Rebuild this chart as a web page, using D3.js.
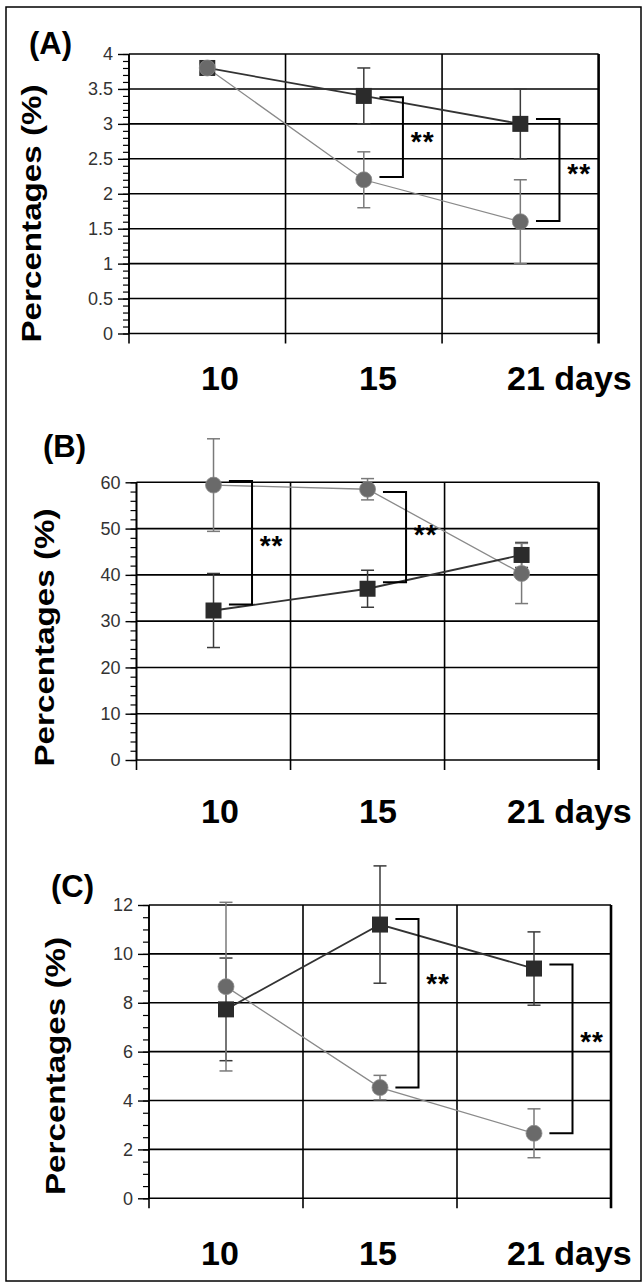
<!DOCTYPE html>
<html><head><meta charset="utf-8">
<script src="https://cdn.jsdelivr.net/npm/d3@7"></script>
<style>html,body{margin:0;padding:0;background:#fff}svg{display:block}</style>
</head><body>
<script>
// ---------- data ----------
const categories = ["10", "15", "21"];
const xLabels = ["10", "15", "21 days"];
const panelNames = ["(A)", "(B)", "(C)"];
const yTitle = "Percentages (%)";

const aTicks = [0, 0.5, 1, 1.5, 2, 2.5, 3, 3.5, 4];
const bTicks = [0, 10, 20, 30, 40, 50, 60];
const cTicks = [0, 2, 4, 6, 8, 10, 12];

const aSquare = [3.8, 3.4, 3.0];
const aSquareErr = [0, 0.4, 0.5];
const aCircle = [3.8, 2.2, 1.6];
const aCircleErr = [0, 0.4, 0.6];

const bSquare = [32.3, 37.0, 44.3];
const bSquareErr = [8.0, 4.0, 2.7];
const bCircle = [59.4, 58.5, 40.3];
const bCircleErr = [10.0, 2.3, 6.5];

const cSquare = [7.73, 11.2, 9.4];
const cSquareErr = [2.1, 2.4, 1.5];
const cCircle = [8.66, 4.53, 2.66];
const cCircleErr = [3.45, 0.5, 1.0];

// significance brackets: category, low end, high end, star level
const aBrackets = [{cat: "15", lo: 2.24, hi: 3.38, star: 2.84}, {cat: "21", lo: 1.61, hi: 3.07, star: 2.37}];
const bBrackets = [{cat: "10", lo: 33.6, hi: 60.3, star: 47.7}, {cat: "15", lo: 38.4, hi: 57.9, star: 50.1}];
const cBrackets = [{cat: "15", lo: 4.53, hi: 11.43, star: 9.05}, {cat: "21", lo: 2.66, hi: 9.57, star: 6.68}];

// ---------- layout ----------
const W = 643, H = 1283;
const FONT = "'Liberation Sans', Arial, Helvetica, sans-serif";
const svg = d3.select("body").append("svg").attr("width", W).attr("height", H);

svg.append("rect").attr("x", 6).attr("y", 7).attr("width", 635).attr("height", 1274)
  .attr("fill", "none").attr("stroke", "#000").attr("stroke-width", 1.5);

const panels = [
  {name: panelNames[0], ticks: aTicks, minor: 0.1, sq: aSquare, sqE: aSquareErr, ci: aCircle, ciE: aCircleErr, br: aBrackets,
   left: 129, right: 598.6, top: 54, bottom: 333.5, labelX: 29, labelY: 53.5, titleX: 41, titleCY: 213.5, xLabelY: 390},
  {name: panelNames[1], ticks: bTicks, minor: 2, sq: bSquare, sqE: bSquareErr, ci: bCircle, ciE: bCircleErr, br: bBrackets,
   left: 136.5, right: 598.6, top: 482.3, bottom: 760, labelX: 43, labelY: 456.5, titleX: 54, titleCY: 637.5, xLabelY: 823},
  {name: panelNames[2], ticks: cTicks, minor: 0.5, sq: cSquare, sqE: cSquareErr, ci: cCircle, ciE: cCircleErr, br: cBrackets,
   left: 149, right: 611, top: 905, bottom: 1198.3, labelX: 51, labelY: 896.5, titleX: 65, titleCY: 1066, xLabelY: 1265}
];

const labelX = d3.scalePoint().domain(categories).range([220, 536]);

panels.forEach(p => {
  const g = svg.append("g");
  const yMax = d3.max(p.ticks);
  const x = d3.scaleBand().domain(categories).range([p.left, p.right]).paddingInner(0).paddingOuter(0);
  const y = d3.scaleLinear().domain([0, yMax]).range([p.bottom, p.top]);
  const cx = c => x(c) + x.bandwidth() / 2;
  const bw = x.bandwidth();

  // horizontal grid
  g.append("g").selectAll("line").data(p.ticks).join("line")
    .attr("x1", p.left).attr("x2", p.right).attr("y1", d => y(d)).attr("y2", d => y(d))
    .attr("stroke", "#000").attr("stroke-width", 1.6);

  // vertical grid + x ticks at band boundaries
  const bounds = categories.map(c => x(c)).concat([x.range()[1]]);
  g.append("g").selectAll("line").data(bounds).join("line")
    .attr("x1", d => d).attr("x2", d => d).attr("y1", p.top).attr("y2", p.bottom + 10)
    .attr("stroke", "#000").attr("stroke-width", (d, i) => i === bounds.length - 1 ? 2.6 : 1.6);

  // y axis: minor ticks
  const minorAxis = d3.axisLeft(y).tickValues(d3.range(0, yMax + 1e-9, p.minor)).tickSize(6).tickFormat("");
  const gm = g.append("g").attr("transform", `translate(${p.left},0)`).call(minorAxis);
  gm.select(".domain").remove();
  gm.selectAll(".tick line").attr("stroke", "#000").attr("stroke-width", 1.2);

  const majorAxis = d3.axisLeft(y).tickValues(p.ticks).tickSize(11).tickPadding(5).tickFormat(d => String(d));
  const ga = g.append("g").attr("transform", `translate(${p.left},0)`).call(majorAxis);
  ga.select(".domain").attr("stroke", "#000").attr("stroke-width", 1.6).attr("d", `M0,${p.top}V${p.bottom}`);
  ga.selectAll(".tick line").attr("stroke", "#000").attr("stroke-width", 1.4);
  ga.selectAll(".tick text").attr("font-family", FONT).attr("font-size", 18).attr("fill", "#333");

  // x labels
  g.append("g").selectAll("text").data(xLabels).join("text")
    .attr("x", (d, i) => i === xLabels.length - 1 ? labelX(categories[i]) - 29 : labelX(categories[i]))
    .attr("y", p.xLabelY)
    .attr("text-anchor", (d, i) => i === xLabels.length - 1 ? "start" : "middle")
    .attr("font-family", FONT).attr("font-weight", "bold").attr("font-size", 34).attr("fill", "#000")
    .text(d => d);

  // panel label
  g.append("text").attr("x", p.labelX).attr("y", p.labelY)
    .attr("font-family", FONT).attr("font-weight", "bold").attr("font-size", 31).text(p.name);

  // y title
  g.append("text").attr("transform", `translate(${p.titleX},${p.titleCY}) rotate(-90)`)
    .attr("text-anchor", "middle").attr("font-family", FONT).attr("font-weight", "bold")
    .attr("font-size", 27).attr("textLength", 258).attr("lengthAdjust", "spacingAndGlyphs").text(yTitle);

  // lines
  const line = d3.line().x((d, i) => cx(categories[i])).y(d => y(d));
  g.append("path").attr("d", line(p.ci)).attr("fill", "none").attr("stroke", "#8a8a8a").attr("stroke-width", 1.3);
  g.append("path").attr("d", line(p.sq)).attr("fill", "none").attr("stroke", "#333").attr("stroke-width", 1.8);

  // error bars
  function errBars(vals, errs, color) {
    const eg = g.append("g").attr("stroke", color).attr("stroke-width", 1.5).attr("fill", "none");
    vals.forEach((v, i) => {
      if (!errs[i]) return;
      const xc = cx(categories[i]);
      eg.append("line").attr("x1", xc).attr("x2", xc).attr("y1", y(v + errs[i])).attr("y2", y(v - errs[i]));
      [v + errs[i], v - errs[i]].forEach(e => {
        eg.append("line").attr("x1", xc - 6.5).attr("x2", xc + 6.5).attr("y1", y(e)).attr("y2", y(e));
      });
    });
  }
  errBars(p.sq, p.sqE, "#3a3a3a");
  errBars(p.ci, p.ciE, "#7a7a7a");

  // markers
  g.append("g").selectAll("rect").data(p.sq).join("rect")
    .attr("x", (d, i) => cx(categories[i]) - 8).attr("y", d => y(d) - 8)
    .attr("width", 16).attr("height", 16).attr("fill", "#2b2b2b");
  g.append("g").selectAll("circle").data(p.ci).join("circle")
    .attr("cx", (d, i) => cx(categories[i])).attr("cy", d => y(d)).attr("r", 8)
    .attr("fill", "#6a6a6a").attr("stroke", "#8c8c8c").attr("stroke-width", 0.8);

  // brackets
  p.br.forEach(b => {
    const xc = cx(b.cat);
    const x0 = xc + bw * 0.1, x1 = xc + bw * 0.25;
    g.append("path")
      .attr("d", `M${x0},${y(b.hi)}H${x1}V${y(b.lo)}H${x0}`)
      .attr("fill", "none").attr("stroke", "#000").attr("stroke-width", 2);
    g.append("text").attr("x", xc + bw * 0.3).attr("y", y(b.star) + 15.5)
      .attr("font-family", FONT).attr("font-weight", "bold").attr("font-size", 28)
      .attr("letter-spacing", 1).text("**");
  });
});
</script>
</body></html>
